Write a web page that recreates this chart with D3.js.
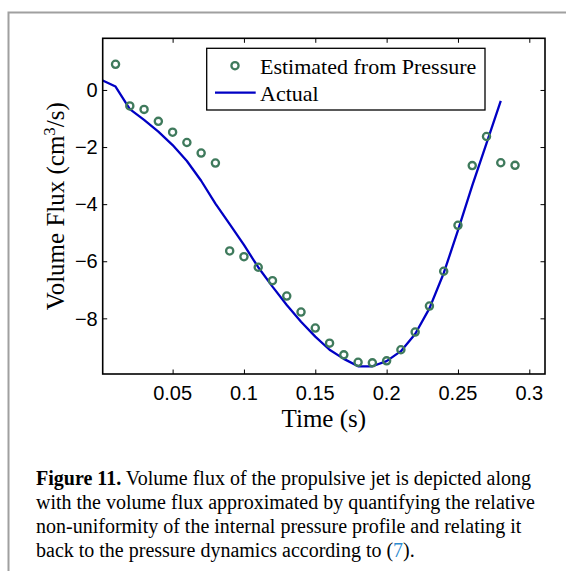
<!DOCTYPE html>
<html>
<head>
<meta charset="utf-8">
<script src="https://cdn.jsdelivr.net/npm/d3@7"></script>
<style>
  body { margin: 0; background: #fff; }
  .tick-label { font-family: 'Liberation Sans', Arial, sans-serif; font-size: 20px; fill: #000; }
  .serif { font-family: 'Liberation Serif', 'Times New Roman', serif; fill: #000; }
</style>
</head>
<body>
<div class="chart"></div>
<script>
// estimated from pressure (circles)
const estTime = [0.01, 0.02, 0.03, 0.04, 0.05, 0.06, 0.07, 0.08, 0.09, 0.10,
  0.11, 0.12, 0.13, 0.14, 0.15, 0.16, 0.17, 0.18, 0.19, 0.20,
  0.21, 0.22, 0.23, 0.24, 0.25, 0.26, 0.27, 0.28, 0.29];
const estFlux = [0.90, -0.56, -0.68, -1.10, -1.48, -1.84, -2.21, -2.56, -5.64, -5.84,
  -6.21, -6.68, -7.22, -7.78, -8.34, -8.87, -9.28, -9.54, -9.56, -9.49,
  -9.10, -8.48, -7.57, -6.35, -4.74, -2.65, -1.63, -2.55, -2.64];

// actual (line)
const actualTime = [0.001, 0.01, 0.02, 0.03, 0.04, 0.05, 0.06, 0.07, 0.08, 0.09, 0.10,
  0.11, 0.12, 0.13, 0.14, 0.15, 0.16, 0.17, 0.18, 0.19, 0.20,
  0.21, 0.22, 0.23, 0.24, 0.25, 0.26, 0.27, 0.28];
const actualFlux = [0.33, 0.12, -0.67, -1.05, -1.46, -1.93, -2.49, -3.18, -3.98, -4.70, -5.43,
  -6.21, -6.89, -7.53, -8.12, -8.64, -9.10, -9.42, -9.68, -9.68, -9.50,
  -9.15, -8.55, -7.65, -6.42, -4.92, -3.35, -1.87, -0.38];

const xTicks = [0.05, 0.1, 0.15, 0.2, 0.25, 0.3];
const yTicks = [0, -2, -4, -6, -8];
const legendLabels = ['Estimated from Pressure', 'Actual'];

const captionLines = [
  [{ t: 'Figure 11.', bold: true }, { t: ' Volume flux of the propulsive jet is depicted along' }],
  [{ t: 'with the volume flux approximated by quantifying the relative' }],
  [{ t: 'non-uniformity of the internal pressure profile and relating it' }],
  [{ t: 'back to the pressure dynamics according to (' }, { t: '7', link: true }, { t: ').' }]
];

const W = 566, H = 571;
const frame = { left: 102.7, top: 38.3, right: 545, bottom: 374 };
const markColor = '#3f7a5c';
const lineColor = '#0000c4';

const svg = d3.select('.chart').append('svg')
  .attr('width', W)
  .attr('height', H);

// outer gray page border (runs off the right and bottom)
svg.append('path')
  .attr('d', `M8.5,${H + 2} L8.5,12.5 L${W + 2},12.5`)
  .attr('fill', 'none')
  .attr('stroke', '#a0a0a0')
  .attr('stroke-width', 2);

const x = d3.scaleLinear().domain([0.001, 0.311]).range([frame.left, frame.right]);
const y = d3.scaleLinear().domain([-9.95, 1.81]).range([frame.bottom, frame.top]);

const tickLen = 4.5;
const axisStyle = g => {
  g.select('.domain').remove();
  g.selectAll('.tick line').attr('stroke', '#000').attr('stroke-width', 1);
  g.selectAll('.tick text').remove();
};

// ticks on all four sides, pointing inward
svg.append('g').attr('transform', `translate(0,${frame.bottom})`)
  .call(d3.axisTop(x).tickValues(xTicks).tickSize(tickLen)).call(axisStyle);
svg.append('g').attr('transform', `translate(0,${frame.top})`)
  .call(d3.axisBottom(x).tickValues(xTicks).tickSize(tickLen)).call(axisStyle);
svg.append('g').attr('transform', `translate(${frame.left},0)`)
  .call(d3.axisRight(y).tickValues(yTicks).tickSize(tickLen)).call(axisStyle);
svg.append('g').attr('transform', `translate(${frame.right},0)`)
  .call(d3.axisLeft(y).tickValues(yTicks).tickSize(tickLen)).call(axisStyle);

// tick labels
svg.selectAll('.xlab')
  .data(xTicks)
  .enter()
  .append('text')
  .attr('class', 'tick-label')
  .attr('x', d => x(d))
  .attr('y', 400)
  .attr('text-anchor', 'middle')
  .text(d => d);

svg.selectAll('.ylab')
  .data(yTicks)
  .enter()
  .append('text')
  .attr('class', 'tick-label')
  .attr('x', frame.left - 5)
  .attr('y', d => y(d))
  .attr('dy', '0.36em')
  .attr('text-anchor', 'end')
  .text(d => (d < 0 ? '\u2212' + Math.abs(d) : d));

// actual line
const line = d3.line()
  .x(d => x(d[0]))
  .y(d => y(d[1]));

svg.append('path')
  .datum(actualTime.map((t, i) => [t, actualFlux[i]]))
  .attr('d', line)
  .attr('fill', 'none')
  .attr('stroke', lineColor)
  .attr('stroke-width', 2.3)
  .attr('stroke-linejoin', 'round');

// estimated circles
svg.selectAll('.est')
  .data(estTime.map((t, i) => [t, estFlux[i]]))
  .enter()
  .append('circle')
  .attr('cx', d => x(d[0]))
  .attr('cy', d => y(d[1]))
  .attr('r', 3.6)
  .attr('fill', 'none')
  .attr('stroke', markColor)
  .attr('stroke-width', 2.3);

// frame
svg.append('rect')
  .attr('x', frame.left)
  .attr('y', frame.top)
  .attr('width', frame.right - frame.left)
  .attr('height', frame.bottom - frame.top)
  .attr('fill', 'none')
  .attr('stroke', '#000')
  .attr('stroke-width', 1.6);

// legend
const lg = svg.append('g');
lg.append('rect')
  .attr('x', 206.7)
  .attr('y', 48.3)
  .attr('width', 485 - 206.7)
  .attr('height', 110 - 48.3)
  .attr('fill', '#fff')
  .attr('stroke', '#000')
  .attr('stroke-width', 1.3);
lg.append('circle')
  .attr('cx', 235)
  .attr('cy', 65.7)
  .attr('r', 3.6)
  .attr('fill', 'none')
  .attr('stroke', markColor)
  .attr('stroke-width', 2.3);
lg.append('line')
  .attr('x1', 215).attr('x2', 255.7)
  .attr('y1', 92.7).attr('y2', 92.7)
  .attr('stroke', lineColor)
  .attr('stroke-width', 2.3);
lg.selectAll('.lgtext')
  .data(legendLabels)
  .enter()
  .append('text')
  .attr('class', 'serif')
  .attr('x', 260)
  .attr('y', (d, i) => 73.5 + i * 27.5)
  .attr('font-size', 22)
  .text(d => d);

// axis titles
svg.append('text')
  .attr('class', 'serif')
  .attr('x', (frame.left + frame.right) / 2)
  .attr('y', 427)
  .attr('text-anchor', 'middle')
  .attr('font-size', 25)
  .text('Time (s)');

const yTitle = svg.append('text')
  .attr('class', 'serif')
  .attr('transform', `translate(64,${(frame.top + frame.bottom) / 2}) rotate(-90)`)
  .attr('text-anchor', 'middle')
  .attr('font-size', 25);
yTitle.append('tspan').text('Volume Flux (cm');
yTitle.append('tspan').attr('dy', -9).attr('font-size', 17).text('3');
yTitle.append('tspan').attr('dy', 9).text('/s)');

// caption
svg.selectAll('.cap')
  .data(captionLines)
  .enter()
  .append('text')
  .attr('class', 'serif')
  .attr('x', 36)
  .attr('y', (d, i) => 485 + i * 24)
  .attr('font-size', 20)
  .each(function (parts) {
    const t = d3.select(this);
    parts.forEach(p => {
      t.append('tspan')
        .attr('font-weight', p.bold ? 'bold' : null)
        .attr('fill', p.link ? '#2a8ad0' : null)
        .text(p.t);
    });
  });
</script>
</body>
</html>
